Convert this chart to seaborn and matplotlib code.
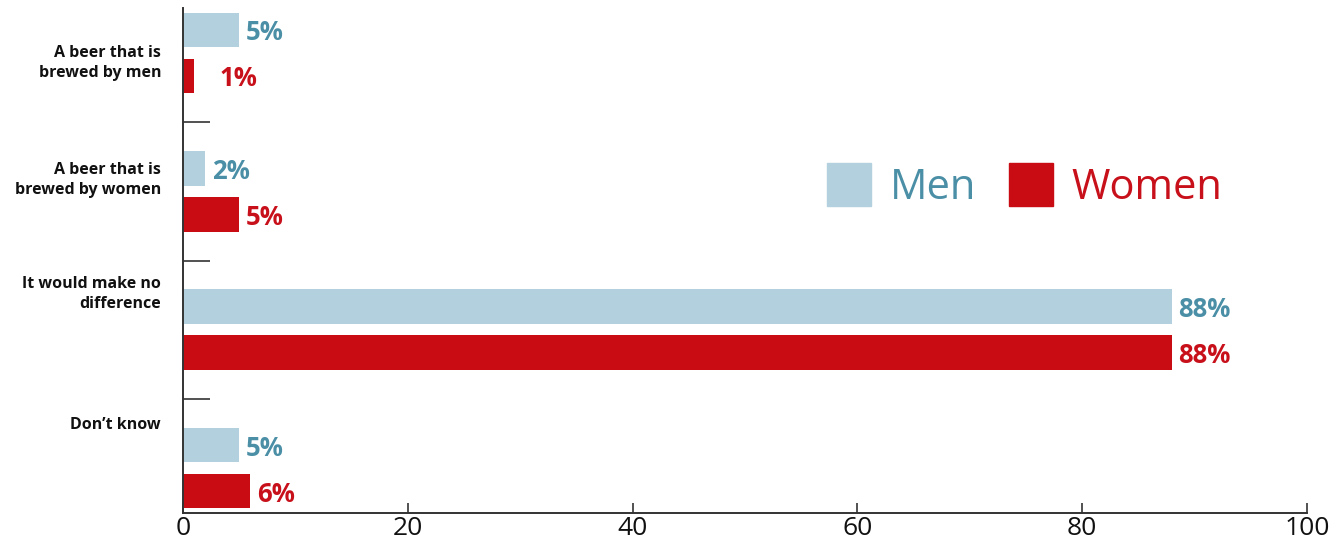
import pandas as pd
import matplotlib.pyplot as plt
import seaborn as sns

categories = ["A beer that is\nbrewed by men", "A beer that is\nbrewed by women",
              "It would make no\ndifference", "Don\u2019t know"]
men = [5, 2, 88, 5]
women = [1, 5, 88, 6]
groups = ["Men", "Women"]

# vertical position of each category label (in category units)
label_y = [0.072, 0.917, 1.744, 2.686]

bar_colors = {"Men": "#b3d0de", "Women": "#c90c14"}
text_colors = {"Men": "#4a8fa6", "Women": "#c8101b"}

df = pd.DataFrame({
    "category": categories * 2,
    "group": ["Men"] * 4 + ["Women"] * 4,
    "value": men + women,
})

sns.set_style("white")
plt.rcParams["font.family"] = ["Open Sans", "DejaVu Sans"]

fig = plt.figure(figsize=(13.32, 5.48), dpi=100)
ax = fig.add_axes([183 / 1332, 1 - 513 / 548, (1307 - 183) / 1332, (513 - 8) / 548])

sns.barplot(data=df, y="category", x="value", hue="group", orient="h",
            palette=bar_colors, width=0.664, gap=0.25, saturation=1,
            linewidth=0, legend=False, ax=ax)

ax.set_xlim(0, 100)
ax.set_ylim(3.325, -0.325)
ax.set_xlabel("")
ax.set_ylabel("")

# value labels
pad = {"Men": [4.5, 5, 4.5, 4.5], "Women": [18, 4.5, 4.5, 4.5]}
for container, g in zip(ax.containers, groups):
    for i, bar in enumerate(container):
        v = bar.get_width()
        ax.annotate(f"{v:.0f}%", (v, bar.get_y() + bar.get_height() / 2),
                    xytext=(pad[g][i], 0), textcoords="offset points",
                    va="center_baseline", ha="left", fontsize=18.5,
                    fontweight="bold", color=text_colors[g])

# category labels
ax.set_yticks([])
for lab, y in zip(categories, label_y):
    ax.text(-0.0195, y, lab, transform=ax.get_yaxis_transform(),
            ha="right", va="center", fontsize=11.5, fontweight="bold",
            color="#111111", linespacing=1.3)

# separators between groups
ax.set_yticks([0.5, 1.5, 2.5], minor=True)
ax.tick_params(axis="y", which="minor", left=True, direction="in",
               length=19.5, width=1.2, color="#333333")

ax.set_xticks([0, 20, 40, 60, 80, 100])
ax.tick_params(axis="x", which="major", bottom=True, direction="in",
               length=7.5, width=1.2, color="#333333", labelsize=19, pad=2,
               labelcolor="#111111")

sns.despine(ax=ax)
for s in ["left", "bottom"]:
    ax.spines[s].set_color("#333333")
    ax.spines[s].set_linewidth(1.4)

handles = [plt.Rectangle((0, 0), 1, 1, color=bar_colors[g]) for g in groups]
ax.legend(handles, groups, loc="center left",
          bbox_to_anchor=(827 / 1332, 1 - 186 / 548), bbox_transform=fig.transFigure,
          ncol=2, frameon=False, fontsize=30, handlelength=1.05, handleheight=1.2,
          handletextpad=0.45, columnspacing=0.8, borderpad=0, borderaxespad=0,
          labelcolor=[text_colors[g] for g in groups])

fig.savefig("out.png", dpi=100)
